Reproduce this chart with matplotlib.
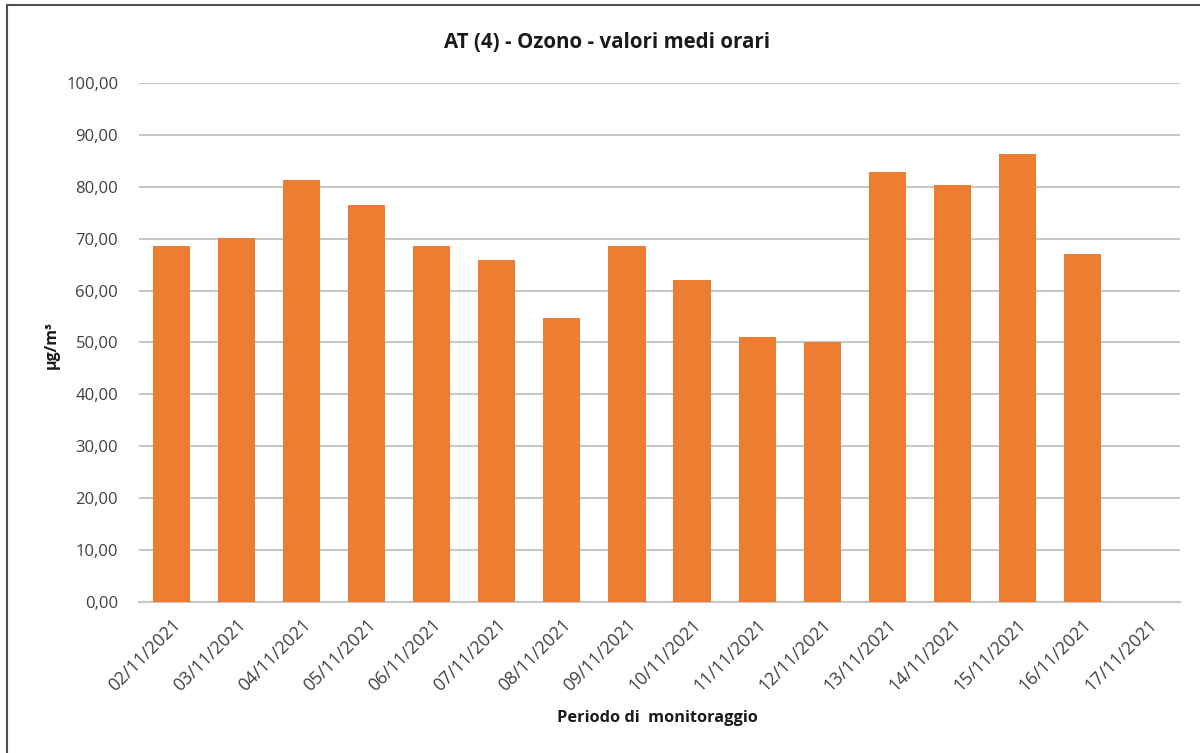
import matplotlib
matplotlib.use("Agg")
import matplotlib.pyplot as plt
from matplotlib.patches import Rectangle

dates = ["02/11/2021", "03/11/2021", "04/11/2021", "05/11/2021", "06/11/2021",
         "07/11/2021", "08/11/2021", "09/11/2021", "10/11/2021", "11/11/2021",
         "12/11/2021", "13/11/2021", "14/11/2021", "15/11/2021", "16/11/2021",
         "17/11/2021"]
values = [68.6, 70.2, 81.4, 76.4, 68.6, 65.8, 54.8, 68.6, 62.0, 51.1,
          50.0, 82.9, 80.4, 86.4, 67.1, None]
yticks = [0, 10, 20, 30, 40, 50, 60, 70, 80, 90, 100]

title = "AT (4) - Ozono - valori medi orari"
ylabel = "μg/m³"
xlabel = "Periodo di  monitoraggio"

plt.rcParams['font.family'] = ['Open Sans', 'DejaVu Sans']

W, H = 1200, 753
fig = plt.figure(figsize=(W / 100, H / 100), dpi=100)
ax = fig.add_axes([139 / W, 1 - 602 / H, (1180 - 139) / W, (602 - 83) / H])

xs = list(range(len(dates)))
bx = [x for x, v in zip(xs, values) if v is not None]
bv = [v for v in values if v is not None]
ax.bar(bx, bv, width=0.57, color="#ED7D31", zorder=3)

ax.set_xlim(-0.5, len(dates) - 0.5)
ax.set_ylim(0, 100)
ax.set_yticks(yticks)
ax.set_yticklabels([f"{t:.2f}".replace(".", ",") for t in yticks],
                   fontsize=12, color="#404040")
ax.yaxis.grid(True, color="#c8c8c8", linewidth=1.5, zorder=0)
ax.set_axisbelow(True)
ax.tick_params(axis="y", length=0, pad=15)
ax.tick_params(axis="x", length=0, pad=10)
ax.set_xticks(xs)
ax.set_xticklabels(dates, rotation=45, ha="right", rotation_mode="anchor",
                   fontsize=12.8, color="#404040")
for s in ["top", "right", "left"]:
    ax.spines[s].set_visible(False)
ax.spines["bottom"].set_color("#c8c8c8")
ax.spines["bottom"].set_linewidth(1.5)

fig.text(607 / W, 1 - 42 / H, title, ha="center", va="center",
         fontsize=14.8, fontweight="bold", color="#1a1a1a")
fig.text(657 / W, 1 - 718 / H, xlabel, ha="center", va="center",
         fontsize=11.8, fontweight="bold", color="#1a1a1a")
fig.text(52 / W, 1 - 345 / H, ylabel, ha="center", va="center", rotation=90,
         fontsize=11.5, fontweight="bold", color="#1a1a1a")

fig.add_artist(Rectangle((7 / W, -0.1), 1.2, 1 - 5 / H + 0.1,
                         transform=fig.transFigure, fill=False,
                         edgecolor="#505050", linewidth=1.5))

fig.savefig("out.png", dpi=100, facecolor="white")
